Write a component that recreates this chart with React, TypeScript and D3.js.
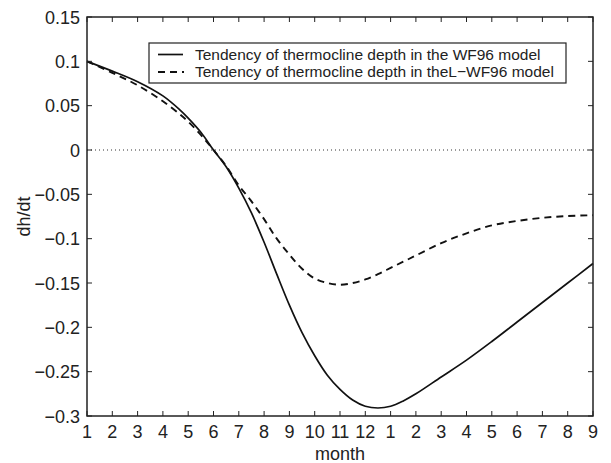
import React from "react";
import * as d3 from "d3";

const monthLabels = ["1","2","3","4","5","6","7","8","9","10","11","12","1","2","3","4","5","6","7","8","9"];
const yTicks = [0.15, 0.1, 0.05, 0, -0.05, -0.1, -0.15, -0.2, -0.25, -0.3];

const wfX = [0,1,2,3,3.68,4,4.5,5,5.5,6,6.5,7,7.5,8,8.5,9,9.5,10,10.5,11,11.5,12,12.5,13,14,15,16,17,18,19,20];
const wfY = [0.100,0.089,0.077,0.061,0.045,0.036,0.020,0.000,-0.019,-0.043,-0.071,-0.104,-0.140,-0.175,-0.206,-0.232,-0.254,-0.270,-0.282,-0.289,-0.291,-0.289,-0.283,-0.275,-0.256,-0.237,-0.216,-0.194,-0.172,-0.150,-0.128];

const lwfX = [0,1,2,3,3.68,4,4.5,5,5.5,6,6.45,7,7.5,8,8.5,9,9.5,10,10.5,11,11.5,12,12.5,13,14,15,16,17,18,19,20];
const lwfY = [0.100,0.087,0.073,0.055,0.040,0.032,0.017,0.000,-0.018,-0.040,-0.056,-0.078,-0.100,-0.118,-0.134,-0.145,-0.150,-0.152,-0.150,-0.146,-0.140,-0.133,-0.126,-0.119,-0.105,-0.094,-0.085,-0.080,-0.0765,-0.0745,-0.0735];

const legendLabels = [
  "Tendency of thermocline depth in the WF96 model",
  "Tendency of thermocline depth in theL\u2212WF96 model",
];

export default function App() {
  const W = 611, H = 463;
  const L = 87, R = 593, T = 17, B = 416;
  const x = d3.scaleLinear().domain([0, 20]).range([L, R]);
  const y = d3.scaleLinear().domain([-0.3, 0.15]).range([B, T]);
  const line = d3.line<[number, number]>().x(d => x(d[0])).y(d => y(d[1])).curve(d3.curveCatmullRom.alpha(0.5));
  const wf = line(wfX.map((v, i) => [v, wfY[i]] as [number, number]))!;
  const lwf = line(lwfX.map((v, i) => [v, lwfY[i]] as [number, number]))!;
  const fmt = (v: number) => {
    if (v === 0) return "0";
    return (v < 0 ? "\u2212" : "") + String(Math.abs(v));
  };
  const font = "'Liberation Sans', Arial, Helvetica, sans-serif";
  const tk = 5;
  return (
    <svg width={W} height={H} style={{ position: "absolute", left: 0, top: 0, background: "#fff" }} fontFamily={font}>
      <rect x={0} y={0} width={W} height={H} fill="#fff" />
      <line x1={L} x2={R} y1={y(0)} y2={y(0)} stroke="#333" strokeWidth={1} strokeDasharray="1 3" />
      <path d={wf} fill="none" stroke="#111" strokeWidth={1.7} />
      <path d={lwf} fill="none" stroke="#111" strokeWidth={1.9} strokeDasharray="7 5" />
      {monthLabels.map((m, i) => (
        <g key={i}>
          <line x1={x(i)} x2={x(i)} y1={B} y2={B - tk} stroke="#222" strokeWidth={1} />
          <line x1={x(i)} x2={x(i)} y1={T} y2={T + tk} stroke="#222" strokeWidth={1} />
          <text x={x(i)} y={438} fontSize={18} textAnchor="middle" fill="#222">{m}</text>
        </g>
      ))}
      {yTicks.map((v, i) => (
        <g key={i}>
          <line x1={L} x2={L + tk} y1={y(v)} y2={y(v)} stroke="#222" strokeWidth={1} />
          <line x1={R} x2={R - tk} y1={y(v)} y2={y(v)} stroke="#222" strokeWidth={1} />
          <text x={80} y={y(v) + 6.5} fontSize={18} textAnchor="end" fill="#222">{fmt(v)}</text>
        </g>
      ))}
      <rect x={L} y={T} width={R - L} height={B - T} fill="none" stroke="#222" strokeWidth={1.5} />
      <text x={(L + R) / 2} y={460} fontSize={18} textAnchor="middle" fill="#222">month</text>
      <text transform={`translate(30,${(T + B) / 2}) rotate(-90)`} fontSize={18} textAnchor="middle" fill="#222">dh/dt</text>
      <g>
        <rect x={149} y={43} width={417} height={40} fill="#fff" stroke="#222" strokeWidth={1.2} />
        <line x1={158} x2={183} y1={54.5} y2={54.5} stroke="#111" strokeWidth={1.7} />
        <line x1={158} x2={184} y1={72} y2={72} stroke="#111" strokeWidth={1.9} strokeDasharray="7 5" />
        <text x={195} y={59.5} fontSize={15.5} fill="#222">{legendLabels[0]}</text>
        <text x={195} y={77} fontSize={15.5} fill="#222">{legendLabels[1]}</text>
      </g>
    </svg>
  );
}
